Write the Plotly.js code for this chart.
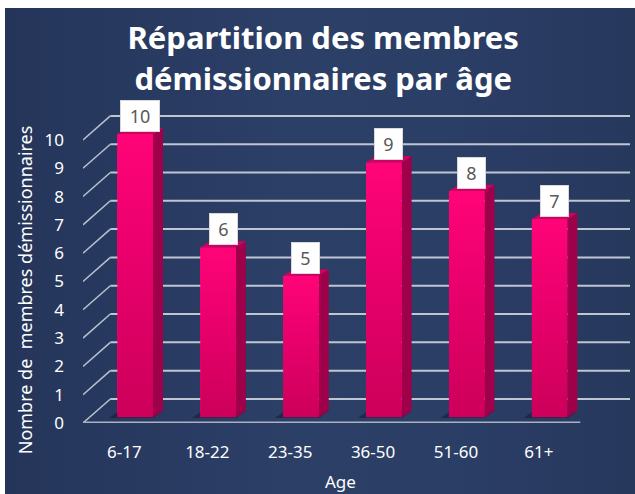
<!DOCTYPE html>
<html><head><meta charset="utf-8">
<script src="https://cdn.plot.ly/plotly-3.0.1.min.js"></script>
<style>
html,body{margin:0;padding:0;background:#fff;width:635px;height:494px;overflow:hidden;}
#bg{position:absolute;left:5px;top:8px;width:630px;height:486px;background:linear-gradient(to right,#25355a 0%,#2c3f67 45%,#2b3e66 70%,#27385d 100%);}
#chart{position:absolute;left:0;top:0;width:635px;height:494px;}
</style></head><body><div id="bg"></div><div id="chart"></div>
<script>
// ---- data ----
const categories = ['6-17', '18-22', '23-35', '36-50', '51-60', '61+'];
const counts = [10, 6, 5, 9, 8, 7];
const yTicks = [0, 1, 2, 3, 4, 5, 6, 7, 8, 9, 10];
const chartTitle = 'Répartition des membres<br>démissionnaires par âge';
const yTitle = 'Nombre de\u00a0 membres démissionnaires';
const xTitle = 'Age';

// ---- 3D styling (offsets in axis units) ----
const X0 = -0.5, X1 = 6.1, XFRONT_END = 5.5;
const wallDx = 0.33, wallDy = 0.85;
const barShift = 0.13, barW = 0.43, barBase = 0.2, barDx = 0.12, barDy = 0.22;
const xIdx = categories.map((c, i) => i);
const FONT = 'Noto Sans, sans-serif';

// gridlines: diagonals + back-wall lines
const gx = [], gy = [], dx = [], dy = [];
yTicks.forEach(v => {
  dx.push(X0, X0 + wallDx, null); dy.push(v, v + wallDy, null);
  gx.push(X0 + wallDx, X1, null); gy.push(v + wallDy, v + wallDy, null);
});
const traces = [];
traces.push({type:'scatter', mode:'lines', x:dx, y:dy, line:{color:'#b9c0cf', width:1.5}, hoverinfo:'skip', showlegend:false, cliponaxis:false});
traces.push({type:'scatter', mode:'lines', x:gx, y:gy, line:{color:'#bfc5d3', width:2}, hoverinfo:'skip', showlegend:false, cliponaxis:false});
// front floor edge
traces.push({type:'scatter', mode:'lines', x:[X0, XFRONT_END], y:[yTicks[0], yTicks[0]], line:{color:'#aab1c1', width:3}, hoverinfo:'skip', showlegend:false, cliponaxis:false});

// soft shadows on the floor, left of each bar foot
const shx = [], shy = [];
xIdx.forEach(i => {
  const l = i + barShift - barW/2, r = i + barShift + barW/2;
  shx.push(l - 0.1, r, r + barDx, l + barDx - 0.1, null);
  shy.push(barBase - 0.02, barBase - 0.02, barBase + barDy, barBase + barDy, null);
});
traces.push({type:'scatter', mode:'lines', x:shx, y:shy, fill:'toself', fillcolor:'rgba(12,18,38,0.45)', line:{width:0}, hoverinfo:'skip', showlegend:false});

// side and top faces
const sx = [], sy = [], tx = [], ty = [];
xIdx.forEach(i => {
  const v = counts[i];
  const l = i + barShift - barW/2, r = i + barShift + barW/2;
  sx.push(r, r + barDx, r + barDx, r, null);
  sy.push(barBase, barBase + barDy, barBase + v + barDy, barBase + v, null);
  tx.push(l, r, r + barDx, l + barDx, null);
  ty.push(barBase + v, barBase + v, barBase + v + barDy, barBase + v + barDy, null);
});
traces.push({type:'scatter', mode:'lines', x:sx, y:sy, fill:'toself', fillcolor:'#9e004a', line:{width:0}, hoverinfo:'skip', showlegend:false});
traces.push({type:'scatter', mode:'lines', x:tx, y:ty, fill:'toself', fillcolor:'#d30062', line:{width:0}, hoverinfo:'skip', showlegend:false, cliponaxis:false});
// front faces (bar trace + gradient overlay computed from the same values)
traces.push({type:'bar', x:xIdx.map(i => i + barShift), y:counts, base:barBase, width:barW,
  marker:{color:'#ee0070', line:{width:0}}, hovertext:categories, showlegend:false});
xIdx.forEach(i => {
  const v = counts[i];
  const l = i + barShift - barW/2, r = i + barShift + barW/2;
  traces.push({type:'scatter', mode:'lines', x:[l, r, r, l, l], y:[barBase, barBase, barBase + v, barBase + v, barBase],
    fill:'toself', line:{width:0}, hoverinfo:'skip', showlegend:false,
    fillgradient:{type:'vertical', start:barBase, stop:barBase + v,
      colorscale:[[0, '#cc005a'], [0.6, '#eb006d'], [1, '#ff0478']]}});
});

const annotations = xIdx.map(i => ({
  x: i + barShift + barDx/2, y: counts[i] + barBase + barDy, xref:'x', yref:'y',
  text: String(counts[i]), showarrow:false, yanchor:'bottom', yshift:-4,
  width: String(counts[i]).length * 11 + 12, height: 26,
  font:{family:FONT, size:18, color:'#595959'},
  bgcolor:'#ffffff', bordercolor:'#d9d9d9', borderwidth:1, borderpad:2
}));
annotations.push({xref:'paper', yref:'paper', x:-0.13, y:0.4, text:yTitle, textangle:-90, showarrow:false,
  font:{family:FONT, size:18, color:'#ffffff'}});
annotations.push({xref:'paper', yref:'paper', x:0.47, y:-0.215, text:xTitle, showarrow:false,
  font:{family:FONT, size:17, color:'#ffffff'}});

const layout = {
  width:635, height:494,
  margin:{l:83, r:5, t:89, b:71},
  paper_bgcolor:'rgba(0,0,0,0)', plot_bgcolor:'rgba(0,0,0,0)',
  title:{text:chartTitle, x:0.509, xanchor:'center', y:0.9, yanchor:'top', yref:'container',
    font:{family:FONT, size:31, color:'#ffffff', weight:'bold'}},
  xaxis:{range:[X0, X1], tickmode:'array', tickvals:xIdx, ticktext:categories,
    showgrid:false, zeroline:false, showline:false, ticks:'', ticklabelstandoff:17,
    tickfont:{family:FONT, size:17, color:'#ffffff'}, fixedrange:true},
  yaxis:{range:[0, 11.8], tickmode:'array', tickvals:yTicks, showgrid:false, zeroline:false, showline:false,
    ticks:'', ticklabelstandoff:18, tickfont:{family:FONT, size:17, color:'#ffffff'}, fixedrange:true},
  annotations:annotations,
  showlegend:false, bargap:0
};
Plotly.newPlot('chart', traces, layout, {displayModeBar:false, staticPlot:true});
</script></body></html>
